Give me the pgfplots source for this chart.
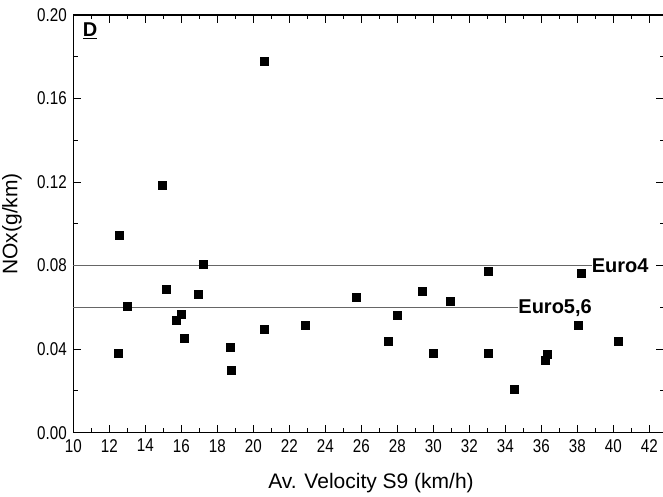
\documentclass[border=0pt]{standalone}
\usepackage{fontspec}
\setmainfont{Liberation Sans}
\newfontfamily\narrowfont{Liberation Sans}[FakeStretch=0.82]
\usepackage{pgfplots}
\pgfplotsset{compat=1.18}

\begin{document}
\begin{tikzpicture}
  \begin{axis}[
      at={(73.3pt,64.3pt)}, anchor=south west,
      width=590.7pt, height=417.7pt,
      scale only axis,
      xmin=10, xmax=42.82,
      ymin=0, ymax=0.2,
      xtick={10,12,...,42},
      ytick={0,0.04,0.08,0.12,0.16,0.2},
      minor x tick num=1,
      minor y tick num=1,
      tick align=inside,
      major tick length=8pt,
      minor tick length=4.5pt,
      every tick/.style={black, line width=1pt},
      axis line style={black, line width=1.2pt},
      /pgf/number format/assume math mode=true,
      yticklabel style={/pgf/number format/fixed, /pgf/number format/fixed zerofill, /pgf/number format/precision=2, xshift=-3pt},
      ticklabel style={font=\narrowfont\fontsize{18.5}{18.5}\selectfont},
      xticklabel style={yshift=-3pt},
      scaled y ticks=false,
      xlabel={Av. Velocity S9 (km/h)},
      ylabel={NOx(g/km)},
      label style={font=\fontsize{21}{21}\selectfont},
      xlabel style={at={(axis description cs:0.504,-0.1324)}, anchor=base},
      ylabel style={at={(axis description cs:-0.0945,0.5)}, anchor=base},
      clip=false,
    ]

    % limit lines
    \addplot[gray!80!black, line width=1.1pt] coordinates {(10,0.08) (38.8,0.08)};
    \addplot[gray!80!black, line width=1.1pt] coordinates {(10,0.06) (34.72,0.06)};

    \node[anchor=west, inner sep=0pt, font=\fontsize{20}{20}\selectfont\bfseries] at (axis cs:38.8,0.08) {Euro4};
    \node[anchor=west, inner sep=0pt, text depth=0pt, font=\fontsize{20}{20}\selectfont\bfseries] at (axis cs:34.72,0.0605) {Euro5,6};

    \node[font=\fontsize{20}{20}\selectfont\bfseries] at (axis cs:10.93,0.1925) {\underline{D}};

    % measurements
    \addplot[only marks, mark=square*, mark size=4pt, black] coordinates {
      (12.50,0.0380) (12.57,0.0944) (12.98,0.0604) (14.96,0.1185)
      (15.15,0.0688) (15.74,0.0537) (15.98,0.0567) (16.15,0.0452)
      (16.96,0.0663) (17.24,0.0808) (18.70,0.0407) (18.76,0.0297)
      (20.59,0.1780) (20.63,0.0494) (22.87,0.0516) (25.72,0.0647)
      (27.48,0.0439) (28.00,0.0561) (29.41,0.0679) (29.97,0.0379)
      (30.95,0.0628) (33.04,0.0773) (33.03,0.0380) (34.50,0.0206)
      (36.20,0.0348) (36.33,0.0374) (38.06,0.0516) (38.24,0.0765)
      (40.26,0.0439)
    };
  \end{axis}
  \pgfresetboundingbox
  \path[use as bounding box] (0,0) rectangle (663pt,497pt);
\end{tikzpicture}
\end{document}
